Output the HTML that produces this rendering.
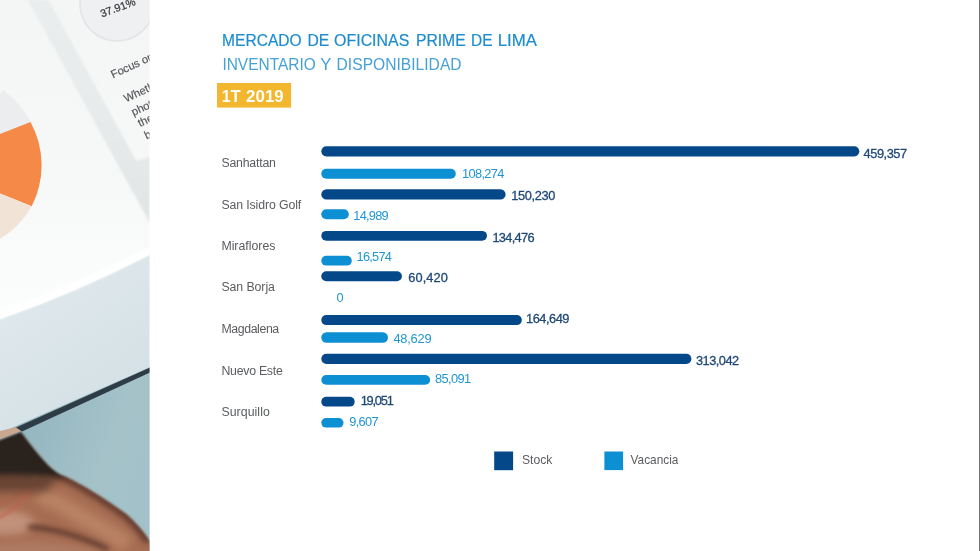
<!DOCTYPE html>
<html lang="es">
<head>
<meta charset="utf-8">
<title>Mercado de oficinas prime de Lima</title>
<style>
html,body{margin:0;padding:0;background:#fff;}
body{width:980px;height:551px;overflow:hidden;font-family:"Liberation Sans",sans-serif;}
svg{display:block;}
svg text{font-family:"Liberation Sans",sans-serif;}
</style>
</head>
<body>
<svg width="980" height="551" viewBox="0 0 980 551">
<rect width="980" height="551" fill="#ffffff"/>
<defs>
<clipPath id="pc"><rect x="0" y="0" width="149.5" height="551"/></clipPath>
<filter id="b05" x="-20%" y="-20%" width="140%" height="140%"><feGaussianBlur stdDeviation="0.6"/></filter>
<filter id="b08" x="-10%" y="-10%" width="120%" height="120%"><feGaussianBlur stdDeviation="0.9"/></filter>
<filter id="b1" x="-20%" y="-20%" width="140%" height="140%"><feGaussianBlur stdDeviation="1.2"/></filter>
<filter id="b2" x="-20%" y="-20%" width="140%" height="140%"><feGaussianBlur stdDeviation="2.5"/></filter>
<filter id="b4" x="-30%" y="-30%" width="160%" height="160%"><feGaussianBlur stdDeviation="4"/></filter>
<filter id="b7" x="-40%" y="-40%" width="180%" height="180%"><feGaussianBlur stdDeviation="7"/></filter>
<linearGradient id="gpaper" gradientUnits="userSpaceOnUse" x1="0" y1="0" x2="0" y2="320">
<stop offset="0" stop-color="#f4f5f5"/><stop offset="0.6" stop-color="#f7f8f8"/><stop offset="0.9" stop-color="#fbfcfc"/><stop offset="1" stop-color="#fcfdfd"/>
</linearGradient>
<linearGradient id="gband" gradientUnits="userSpaceOnUse" x1="0" y1="0" x2="0" y2="220">
<stop offset="0" stop-color="#eaeded"/><stop offset="0.5" stop-color="#e8ebeb"/><stop offset="1" stop-color="#e2e5e5"/>
</linearGradient>
<linearGradient id="gside" x1="0" y1="0" x2="0.35" y2="1">
<stop offset="0" stop-color="#e3ebee"/><stop offset="1" stop-color="#cddce2"/>
</linearGradient>
<linearGradient id="gsurf" gradientUnits="userSpaceOnUse" x1="10" y1="420" x2="150" y2="470">
<stop offset="0" stop-color="#92b4be"/><stop offset="0.7" stop-color="#a5c2c9"/><stop offset="1" stop-color="#a3c1c8"/>
</linearGradient>
<clipPath id="handclip"><path d="M-20,448 L21,432 Q34,450 45,462 Q52,470 60,474.5 Q66,476.5 72.6,480 Q86,487 100,496 Q114,505 127,514.5 Q140,526 150,541 L170,575 L-20,575 Z"/></clipPath>
</defs>
<g clip-path="url(#pc)">
<rect x="0" y="0" width="150" height="551" fill="url(#gpaper)"/>
<!-- gray diagonal band -->
<polygon points="28,0 48.4,0 136.3,161 150,157 150,223 146,216" fill="url(#gband)" filter="url(#b1)"/>
<!-- gauge circle -->
<circle cx="117" cy="4" r="37" fill="#eef0f1" stroke="#e2e4e6" stroke-width="1.6"/>
<text transform="translate(102,17.5) rotate(-20.5)" font-size="10.8" fill="#3a3c40" stroke="#3a3c40" stroke-width="0.25">37.91%</text>
<g font-size="11.2" fill="#54565a" stroke="#54565a" stroke-width="0.15">
<text transform="translate(113,78.5) rotate(-25)">Focus on</text>
<text transform="translate(126,102.5) rotate(-25)">Whether</text>
<text transform="translate(133.5,116) rotate(-25)">photo</text>
<text transform="translate(140,127) rotate(-25)">the</text>
<text transform="translate(146.5,139.5) rotate(-25)">be</text>
</g>
<!-- pie -->
<path d="M-50,165 L3,90 A92,92 0 0 1 30.5,122 Z" fill="#ebedee"/>
<path d="M-50,165 L0,134 L30.5,122 A90,90 0 0 1 31.7,206.3 L0,193.6 Z" fill="#f58a48"/>
<path d="M-50,165 L0,193.6 L31.7,206.3 A90,90 0 0 1 0,239 Z" fill="#f2e3d7"/>
<!-- tablet side + highlight edge -->
<path d="M0,319 Q75,293 150,254.5 L150,551 L0,551 Z" fill="url(#gside)"/>
<path d="M0,311 Q75,285 150,246.5 L150,254.5 Q75,293 0,319 Z" fill="#ffffff" filter="url(#b1)"/>
<!-- blue surface -->
<path d="M7,430 L150,367 L150,551 L0,551 L0,433 Z" fill="url(#gsurf)"/>
<!-- hand + shadow -->
<g filter="url(#b08)"><g clip-path="url(#handclip)">
<rect x="-20" y="420" width="190" height="160" fill="#a56c52"/>
<path d="M38,494 Q60,503 76.5,514 Q100,526 128,545" stroke="#b98264" stroke-width="17" fill="none" filter="url(#b4)"/>
<path d="M21,432 Q34,450 45,462 Q52,470 60,474.5 Q66,476.5 72.6,480 Q86,487 100,496 Q114,505 127,514.5 Q140,526 150,541" stroke="#6b4131" stroke-width="12" fill="none" filter="url(#b2)"/>
<ellipse cx="6" cy="523" rx="28" ry="12" fill="#c2927a" filter="url(#b4)"/>
<path d="M-10,545 Q40,535 100,552 L100,565 L-10,565 Z" fill="#ad7a62" filter="url(#b4)"/>
<path d="M28,527 Q62,528 108,549" stroke="#5a3629" stroke-width="4.5" fill="none" filter="url(#b2)"/>
<path d="M-5,519 Q16,512 31,489" stroke="#c4604d" stroke-width="1.8" fill="none" filter="url(#b1)"/>
<path d="M-5,507 Q14,500 28,486" stroke="#b85a48" stroke-width="1.5" fill="none" filter="url(#b1)" opacity="0.8"/>
<path d="M-30,468 L62,474 L46,492 L-30,492 Z" fill="#5e3c2e" filter="url(#b4)" opacity="0.85"/>
<path d="M-30,420 L24,420 Q42,452 68,477 Q40,475 -30,475 Z" fill="#2b211d" filter="url(#b2)"/>
</g></g>
<!-- tan reflection at tablet corner -->
<path d="M0,431 L18.6,426.5 L21,431 L0,439 Z" fill="#c9a88f" filter="url(#b05)"/>
<!-- dark bezel line -->
<path d="M16,427.4 L150,367.6 L150,372.6 L22,431.6 Z" fill="#2d3e44" filter="url(#b05)"/>
</g>

<!-- titles -->
<text y="45.6" font-size="16.5" fill="#1c8ccd" stroke="#1c8ccd" stroke-width="0.2"><tspan x="222.1" textLength="79.6" lengthAdjust="spacingAndGlyphs">MERCADO</tspan> <tspan x="307.5" textLength="21.8" lengthAdjust="spacingAndGlyphs">DE</tspan> <tspan x="334.1" textLength="75.2" lengthAdjust="spacingAndGlyphs">OFICINAS</tspan> <tspan x="415.9" textLength="49.8" lengthAdjust="spacingAndGlyphs">PRIME</tspan> <tspan x="471.0" textLength="21.5" lengthAdjust="spacingAndGlyphs">DE</tspan> <tspan x="497.7" textLength="39.2" lengthAdjust="spacingAndGlyphs">LIMA</tspan></text>
<text y="70.4" font-size="16.5" fill="#45a1d6" ><tspan x="222.4" textLength="93.4" lengthAdjust="spacingAndGlyphs">INVENTARIO</tspan> <tspan x="320.3" textLength="10.8" lengthAdjust="spacingAndGlyphs">Y</tspan> <tspan x="336.6" textLength="125.0" lengthAdjust="spacingAndGlyphs">DISPONIBILIDAD</tspan></text>
<rect x="217" y="83" width="74.1" height="24.6" fill="#f2b72e"/>
<text y="102.3" font-size="17.3" fill="#fffdf8" font-weight="bold"><tspan x="221.7" textLength="18.8" lengthAdjust="spacingAndGlyphs">1T</tspan> <tspan x="246.1" textLength="37.6" lengthAdjust="spacingAndGlyphs">2019</tspan></text>
<!-- chart -->
<rect x="321.3" y="146.3" width="538.0" height="10.1" rx="5.05" fill="#05488a"/>
<rect x="321.3" y="189.2" width="184.3" height="10.4" rx="5.20" fill="#05488a"/>
<rect x="321.3" y="230.9" width="165.7" height="9.9" rx="4.95" fill="#05488a"/>
<rect x="321.3" y="271.3" width="80.6" height="10.0" rx="5.00" fill="#05488a"/>
<rect x="321.3" y="315.1" width="200.5" height="10.0" rx="5.00" fill="#05488a"/>
<rect x="321.3" y="353.7" width="370.1" height="10.2" rx="5.10" fill="#05488a"/>
<rect x="321.3" y="396.7" width="33.4" height="9.9" rx="4.95" fill="#05488a"/>
<rect x="321.3" y="168.8" width="134.5" height="10.0" rx="5.00" fill="#0c8fd3"/>
<rect x="321.3" y="209.2" width="27.5" height="10.0" rx="5.00" fill="#0c8fd3"/>
<rect x="321.3" y="255.8" width="30.5" height="9.8" rx="4.90" fill="#0c8fd3"/>
<rect x="321.3" y="332.2" width="66.7" height="10.5" rx="5.25" fill="#0c8fd3"/>
<rect x="321.3" y="375.0" width="108.8" height="9.8" rx="4.90" fill="#0c8fd3"/>
<rect x="321.3" y="418.1" width="22.2" height="9.5" rx="4.75" fill="#0c8fd3"/>
<text x="863.6" y="158.1" font-size="12.8" fill="#1f4878" textLength="43.5" lengthAdjust="spacing" stroke="#1f4878" stroke-width="0.3">459,357</text>
<text x="511.2" y="200.4" font-size="12.8" fill="#1f4878" textLength="44.1" lengthAdjust="spacing" stroke="#1f4878" stroke-width="0.3">150,230</text>
<text x="492.4" y="241.6" font-size="12.8" fill="#1f4878" textLength="42.2" lengthAdjust="spacing" stroke="#1f4878" stroke-width="0.3">134,476</text>
<text x="408.3" y="281.6" font-size="12.8" fill="#1f4878" textLength="39.6" lengthAdjust="spacing" stroke="#1f4878" stroke-width="0.3">60,420</text>
<text x="526.0" y="323.4" font-size="12.8" fill="#1f4878" textLength="43.4" lengthAdjust="spacing" stroke="#1f4878" stroke-width="0.3">164,649</text>
<text x="695.9" y="364.8" font-size="12.8" fill="#1f4878" textLength="43.3" lengthAdjust="spacing" stroke="#1f4878" stroke-width="0.3">313,042</text>
<text x="360.7" y="404.8" font-size="12.8" fill="#1f4878" textLength="33.1" lengthAdjust="spacing" stroke="#1f4878" stroke-width="0.3">19,051</text>
<text x="462.1" y="178.0" font-size="12.8" fill="#1f95d3" textLength="42.3" lengthAdjust="spacing" >108,274</text>
<text x="353.3" y="220.2" font-size="12.8" fill="#1f95d3" textLength="35.3" lengthAdjust="spacing" >14,989</text>
<text x="356.6" y="261.0" font-size="12.8" fill="#1f95d3" textLength="35.3" lengthAdjust="spacing" >16,574</text>
<text x="336.4" y="301.7" font-size="12.8" fill="#1f95d3" textLength="8.2" lengthAdjust="spacing" >0</text>
<text x="393.4" y="342.9" font-size="12.8" fill="#1f95d3" textLength="38.2" lengthAdjust="spacing" >48,629</text>
<text x="435.1" y="383.0" font-size="12.8" fill="#1f95d3" textLength="35.9" lengthAdjust="spacing" >85,091</text>
<text x="349.2" y="426.0" font-size="12.8" fill="#1f95d3" textLength="29.3" lengthAdjust="spacing" >9,607</text>
<text x="221.4" y="167.3" font-size="12.3" fill="#5a5c5f" textLength="54.5" lengthAdjust="spacing" >Sanhattan</text>
<text x="221.4" y="208.6" font-size="12.3" fill="#5a5c5f" textLength="79.8" lengthAdjust="spacing" >San Isidro Golf</text>
<text x="221.4" y="250.1" font-size="12.3" fill="#5a5c5f" textLength="54.0" lengthAdjust="spacing" >Miraflores</text>
<text x="221.4" y="291.3" font-size="12.3" fill="#5a5c5f" textLength="53.5" lengthAdjust="spacing" >San Borja</text>
<text x="221.4" y="333.1" font-size="12.3" fill="#5a5c5f" textLength="57.8" lengthAdjust="spacing" >Magdalena</text>
<text x="221.4" y="374.8" font-size="12.3" fill="#5a5c5f" textLength="61.4" lengthAdjust="spacing" >Nuevo Este</text>
<text x="221.4" y="416.0" font-size="12.3" fill="#5a5c5f" textLength="48.4" lengthAdjust="spacing" >Surquillo</text>
<rect x="979" y="0" width="1" height="551" fill="#757575"/>
<!-- legend -->
<rect x="494.2" y="451.5" width="18.9" height="18.7" fill="#05488a"/>
<text x="522.0" y="464.1" font-size="12.4" fill="#5a5c5f" textLength="30.4" lengthAdjust="spacingAndGlyphs">Stock</text>
<rect x="604.4" y="451.5" width="18.7" height="18.6" fill="#0c8fd3"/>
<text x="630.6" y="464.1" font-size="12.4" fill="#5a5c5f" textLength="47.8" lengthAdjust="spacingAndGlyphs">Vacancia</text>
</svg>
</body>
</html>
